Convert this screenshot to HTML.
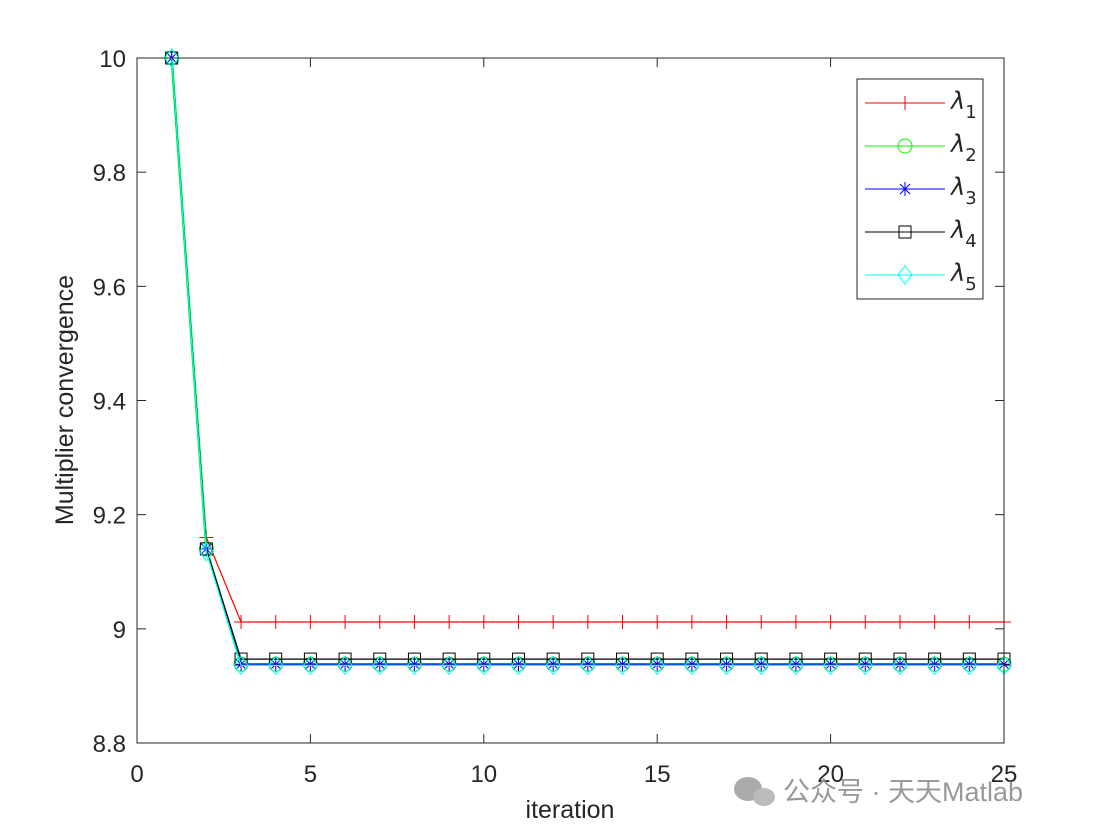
<!DOCTYPE html>
<html><head><meta charset="utf-8"><style>
body{margin:0;background:#fff;width:1107px;height:834px;overflow:hidden;font-family:"Liberation Sans",sans-serif}
</style></head><body>
<svg id="chart" width="1107" height="834" xmlns="http://www.w3.org/2000/svg" font-family="Liberation Sans, sans-serif">
<rect width="1107" height="834" fill="#fff"/>
<g id="plot"></g>
<rect x="137" y="58" width="867" height="685" fill="none" stroke="#262626" stroke-width="1"/>
<g id="ticks"></g>
<text x="570" y="818" font-size="25" text-anchor="middle" fill="#262626">iteration</text>
<text transform="translate(73,400) rotate(-90)" font-size="25" text-anchor="middle" fill="#262626">Multiplier convergence</text>
<g id="legend">
<rect x="857" y="79" width="126" height="220" fill="#fff" stroke="#262626"/>
</g>
<g fill="#999">
<ellipse cx="748" cy="789" rx="14" ry="12" fill="#aaa"/><ellipse cx="764" cy="797" rx="11" ry="9" fill="#bbb"/>
<text x="783" y="801" font-size="27" font-family="Liberation Sans, Noto Sans CJK SC, sans-serif" fill="#999">公众号 · 天天Matlab</text>
</g>
</svg>
<script>
const iterations=[];for(let i=1;i<=25;i++)iterations.push(i);
const lambda1=[10,9.16,9.012,9.012,9.012,9.012,9.012,9.012,9.012,9.012,9.012,9.012,9.012,9.012,9.012,9.012,9.012,9.012,9.012,9.012,9.012,9.012,9.012,9.012,9.012];
const lambda2=[10,9.14,8.938,8.938,8.938,8.938,8.938,8.938,8.938,8.938,8.938,8.938,8.938,8.938,8.938,8.938,8.938,8.938,8.938,8.938,8.938,8.938,8.938,8.938,8.938];
const lambda3=[10,9.14,8.938,8.938,8.938,8.938,8.938,8.938,8.938,8.938,8.938,8.938,8.938,8.938,8.938,8.938,8.938,8.938,8.938,8.938,8.938,8.938,8.938,8.938,8.938];
const lambda4=[10,9.14,8.947,8.947,8.947,8.947,8.947,8.947,8.947,8.947,8.947,8.947,8.947,8.947,8.947,8.947,8.947,8.947,8.947,8.947,8.947,8.947,8.947,8.947,8.947];
const lambda5=[10,9.135,8.936,8.936,8.936,8.936,8.936,8.936,8.936,8.936,8.936,8.936,8.936,8.936,8.936,8.936,8.936,8.936,8.936,8.936,8.936,8.936,8.936,8.936,8.936];
const xTicks=[0,5,10,15,20,25];
const yTicks=[8.8,9,9.2,9.4,9.6,9.8,10];
const NS="http://www.w3.org/2000/svg";
const X=v=>137+v*(867/25);
const Y=v=>743-(v-8.8)*(685/1.2);
function mk(t,a,p){const e=document.createElementNS(NS,t);for(const k in a)e.setAttribute(k,a[k]);p.appendChild(e);return e;}
const tk=document.getElementById('ticks');
xTicks.forEach(v=>{
 mk('line',{x1:X(v),x2:X(v),y1:743,y2:734,stroke:'#262626'},tk);
 mk('line',{x1:X(v),x2:X(v),y1:58,y2:67,stroke:'#262626'},tk);
 const t=mk('text',{x:X(v),y:782,'font-size':24,'text-anchor':'middle',fill:'#262626'},tk);
 
 
 t.textContent=v;
});
yTicks.forEach(v=>{
 mk('line',{x1:137,x2:146,y1:Y(v),y2:Y(v),stroke:'#262626'},tk);
 mk('line',{x1:1004,x2:995,y1:Y(v),y2:Y(v),stroke:'#262626'},tk);
 const t=mk('text',{x:126,y:Y(v)+9,'font-size':24,'text-anchor':'end',fill:'#262626'},tk);
 
 
 t.textContent=String(v);
});
function marker(type,x,y,c,g){
 if(type==='plus'){mk('path',{d:`M${x-7} ${y}H${x+7}M${x} ${y-7}V${y+7}`,stroke:c,fill:'none'},g);}
 else if(type==='circle'){mk('circle',{cx:x,cy:y,r:7,stroke:c,fill:'none'},g);}
 else if(type==='star'){mk('path',{d:`M${x-7} ${y}H${x+7}M${x} ${y-7}V${y+7}M${x-5} ${y-5}L${x+5} ${y+5}M${x-5} ${y+5}L${x+5} ${y-5}`,stroke:c,fill:'none'},g);}
 else if(type==='square'){mk('rect',{x:x-6,y:y-6,width:12,height:12,stroke:c,fill:'none'},g);}
 else if(type==='diamond'){mk('path',{d:`M${x} ${y-9}L${x+7} ${y}L${x} ${y+9}L${x-7} ${y}Z`,stroke:c,fill:'none'},g);}
}
const series=[[lambda1,'#ff0000','plus',1.2],[lambda2,'#00ff00','circle',2.5],[lambda3,'#0000ff','star',1.2],[lambda4,'#000000','square',1.2],[lambda5,'#00ffff','diamond',1.2]];
const plot=document.getElementById('plot');
const leg=document.getElementById('legend');
series.forEach((s,i)=>{
 const g=mk('g',{},plot);
 
 
 mk('polyline',{points:s[0].map((v,j)=>X(iterations[j])+','+Y(v)).join(' '),fill:'none',stroke:s[1],'stroke-width':s[3]},g);
 s[0].forEach((v,j)=>marker(s[2],X(iterations[j]),Y(v),s[1],g));
 const ly=103+i*43;
 const lg=mk('g',{},leg);
 
 
 mk('line',{x1:865,x2:945,y1:ly,y2:ly,stroke:s[1]},lg);
 marker(s[2],905,ly,s[1],lg);
 const t=mk('text',{x:951,y:ly+6,'font-size':24,fill:'#262626','font-family':'DejaVu Sans, sans-serif','font-style':'italic'},lg);
 t.textContent='λ';
 const sub=mk('tspan',{dy:9,'font-size':18,'font-style':'normal'},t);sub.textContent=String(i+1);
});
</script>
</body></html>
